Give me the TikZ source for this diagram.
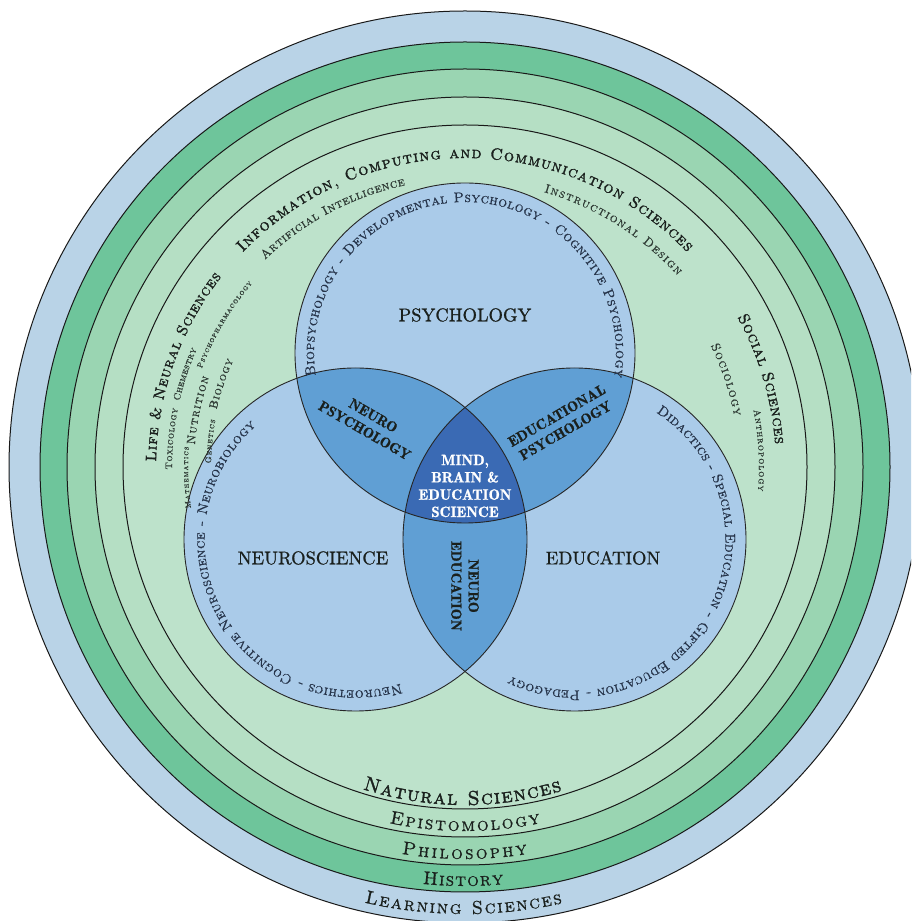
\documentclass[tikz,border=0pt]{standalone}
\usepackage{fontspec}
\usetikzlibrary{decorations.text}
\newfontfamily\scrm{lmromancaps10-regular.otf}[FakeBold=0.7]
\newfontfamily\scbf{lmromancaps10-regular.otf}[FakeBold=1.8]
\newfontfamily\demi{lmromandemi10-regular.otf}[FakeBold=1]
\newfontfamily\mainf{lmroman10-regular.otf}[FakeBold=0.8]
\definecolor{lsblue}{HTML}{B9D3E7}
\definecolor{histg}{HTML}{6EC59B}
\definecolor{philg}{HTML}{9AD5B2}
\definecolor{epig}{HTML}{B5DFC4}
\definecolor{natg}{HTML}{BDE2CB}
\definecolor{vennb}{HTML}{AACBE9}
\definecolor{pairb}{HTML}{609FD4}
\definecolor{mbeb}{HTML}{3A6AB4}
\definecolor{ink}{HTML}{1A201D}
\definecolor{subink}{HTML}{2E3A34}
\definecolor{venntext}{HTML}{26344A}
\newcommand\fsz[1]{\fontsize{#1}{#1}\selectfont}
% #1 centre, #2 radius, #3 start angle, #4 end angle, #5 font code, #6 text
\newcommand\arclabel[6]{%
  \path[decorate,decoration={text along path,text align={fit to path},text={|#5|#6}}]
    (#1) ++(#3:#2pt) arc[start angle=#3,end angle=#4,radius=#2pt];}
\tikzset{
  ringline/.style={draw=black!90,line width=1pt},
  vennline/.style={draw=black!85,line width=0.9pt},
  mainlabel/.style={inner sep=0pt,text=ink,font=\mainf\fsz{18.5}},
  interlabel/.style={inner sep=0pt,text=ink,align=center,font=\demi\fontsize{14.5}{17.3}\selectfont},
}
\begin{document}
\begin{tikzpicture}[x=1pt,y=1pt]
\useasboundingbox (0,0) rectangle (911,921);
\fill[white] (0,0) rectangle (911,921);
\coordinate (C) at (465,454);
\coordinate (P) at (465,568);
\coordinate (N) at (355.5,381.5);
\coordinate (E) at (574.5,381.5);
% rings
\begin{scope}
  \clip (0,0) rectangle (911,921);
  \filldraw[fill=lsblue,ringline] (C) circle[radius=456pt];
  \filldraw[fill=histg,ringline] (C) circle[radius=425pt];
  \filldraw[fill=philg,ringline] (C) circle[radius=398pt];
  \filldraw[fill=epig,ringline] (C) circle[radius=370pt];
  \filldraw[fill=natg,ringline] (C) circle[radius=342pt];
\end{scope}
% venn fills
\fill[vennb] (P) circle[radius=170pt];
\fill[vennb] (N) circle[radius=171.5pt];
\fill[vennb] (E) circle[radius=171.5pt];
\begin{scope}
  \clip (P) circle[radius=170pt];
  \fill[pairb] (N) circle[radius=171.5pt];
  \fill[pairb] (E) circle[radius=171.5pt];
\end{scope}
\begin{scope}
  \clip (N) circle[radius=171.5pt];
  \fill[pairb] (E) circle[radius=171.5pt];
\end{scope}
\begin{scope}
  \clip (P) circle[radius=170pt];
  \clip (N) circle[radius=171.5pt];
  \fill[mbeb] (E) circle[radius=171.5pt];
\end{scope}
\draw[vennline] (P) circle[radius=170pt];
\draw[vennline] (N) circle[radius=171.5pt];
\draw[vennline] (E) circle[radius=171.5pt];
% outer ring labels (bottom)
\arclabel{C}{338}{-107.6}{-73.3}{\scbf\fsz{20}\color{ink}}{Natural Sciences}
\arclabel{C}{364}{-102}{-78}{\scrm\fsz{18.5}\color{ink}}{Epistomology}
\arclabel{C}{392}{-99.3}{-80.8}{\scrm\fsz{18.5}\color{ink}}{Philosophy}
\arclabel{C}{419}{-95.8}{-84.7}{\scrm\fsz{18.5}\color{ink}}{History}
\arclabel{C}{447}{-103}{-77.4}{\scrm\fsz{18.5}\color{ink}}{Learning Sciences}
% upper labels
\arclabel{C}{309}{136}{44}{\scbf\fsz{16}\color{ink}}{Information, Computing and Communication Sciences}
\arclabel{C}{288}{134}{102}{\scrm\fsz{12.5}\color{subink}}{Artificial Intelligence}
\arclabel{C}{286}{74}{42}{\scrm\fsz{12.5}\color{subink}}{Instructional Design}
\arclabel{C}{309}{179}{142}{\scbf\fsz{15}\color{ink}}{Life {\&} Neural Sciences}
\arclabel{C}{311}{28.8}{4.2}{\scbf\fsz{15.5}\color{ink}}{Social Sciences}
% life sciences cluster
\arclabel{C}{293}{180.5}{168.5}{\scrm\fsz{9.5}\color{subink}}{Toxicology}
\arclabel{C}{293}{167}{156.3}{\scrm\fsz{9.5}\color{subink}}{Chemestry}
\arclabel{C}{281}{159.5}{139.2}{\scrm\fsz{7.8}\color{subink}}{Psychopharmacology}
\arclabel{C}{277}{188.5}{175.8}{\scrm\fsz{7.6}\color{subink}}{Mathematics}
\arclabel{C}{271}{175.3}{160.7}{\scrm\fsz{12}\color{subink}}{Nutrition}
\arclabel{C}{254}{179.2}{169.3}{\scrm\fsz{8.3}\color{subink}}{Genetics}
\arclabel{C}{255}{167}{155.3}{\scrm\fsz{11.5}\color{subink}}{Biology}
% social sciences cluster
\arclabel{C}{274}{26.3}{10.7}{\scrm\fsz{12.5}\color{subink}}{Sociology}
\arclabel{C}{294}{11.2}{-4.7}{\scrm\fsz{9.5}\color{subink}}{Anthropology}
% venn arc texts
\arclabel{P}{151}{188.6}{-9.2}{\scrm\fsz{14}\color{venntext}}{Biopsychology - Developmental Psychology - Cognitive Psychology}
\arclabel{N}{151}{-72.6}{-228.8}{\scrm\fsz{14}\color{venntext}}{Neuroethics - Cognitive Neuroscience - Neurobiology}
\arclabel{E}{151}{57.3}{-115.2}{\scrm\fsz{14}\color{venntext}}{Didactics - Special Education - Gifted Education - Pedagogy}
% main labels
\node[mainlabel] (psy) at (465,606) {PSYCHOLOGY};
\node[mainlabel] (neu) at (313,363) {NEUROSCIENCE};
\node[mainlabel] (edu) at (603,363) {EDUCATION};
\node[interlabel,text=white,font=\demi\fontsize{15}{17.3}\selectfont] (mbe) at (465,435) {MIND,\\BRAIN \&\\EDUCATION\\SCIENCE};
\node[interlabel,rotate=-30] (np) at (369,498) {NEURO\\PSYCHOLOGY};
\node[interlabel,rotate=30] (ep) at (561,498) {EDUCATIONAL\\PSYCHOLOGY};
\node[interlabel,rotate=-90] (ne) at (465,335) {NEURO\\EDUCATION};
\end{tikzpicture}
\end{document}
